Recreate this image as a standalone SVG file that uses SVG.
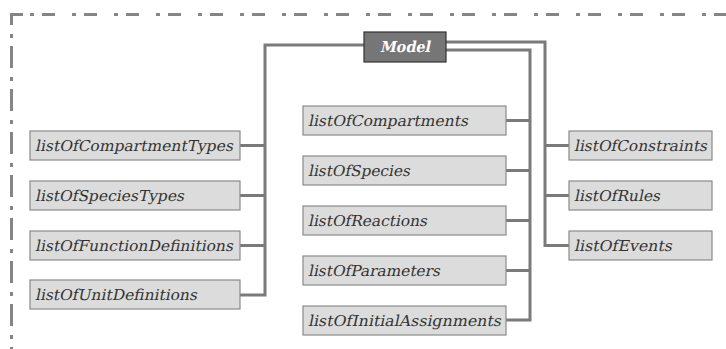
<svg xmlns="http://www.w3.org/2000/svg" width="726" height="349" viewBox="0 0 726 349">
<style>
.box{fill:#dcdcdc;stroke:#8a8a8a;stroke-width:1.2}
.lbl{font-family:"DejaVu Serif","Liberation Serif",serif;font-size:15px;fill:#333}
.conn{fill:none;stroke:#7a7a7a;stroke-width:3}
.border{fill:none;stroke:#858585;stroke-width:3}
</style>
<rect width="726" height="349" fill="#fff"/>
<g id="frame">
<path class="border" d="M11.5,25 V14.5 H23"/>
<path class="border" d="M30,14.5 H726" stroke-dasharray="4 8 13 17"/>
<path class="border" d="M11.5,34 V349" stroke-dasharray="4 8 22 9"/>
</g>
<g id="connectors">
<path class="conn" d="M364,45 H265 V295 H240"/>
<path class="conn" d="M240,145.5 H265 M240,195.5 H265 M240,245.5 H265"/>
<path class="conn" d="M446,50 H530 V320 H506"/>
<path class="conn" d="M506,120.5 H530 M506,170.5 H530 M506,220.5 H530 M506,270.5 H530"/>
<path class="conn" d="M446,42 H545 V245.5 H569"/>
<path class="conn" d="M545,145.5 H569 M545,195.5 H569"/>
</g>
<g id="model">
<rect x="364" y="32" width="82" height="30" fill="#767676" stroke="#333" stroke-width="1.2"/>
<text transform="translate(405,52) skewX(-12)" text-anchor="middle" font-family="DejaVu Serif, serif" font-weight="bold" font-size="15" fill="#fff" textLength="50" lengthAdjust="spacingAndGlyphs">Model</text>
</g>
<g id="listOfCompartmentTypes"><rect class="box" x="30" y="131" width="210" height="29"/><text class="lbl" transform="translate(35,151) skewX(-12)" textLength="198" lengthAdjust="spacingAndGlyphs">listOfCompartmentTypes</text></g>
<g id="listOfSpeciesTypes"><rect class="box" x="30" y="181" width="210" height="29"/><text class="lbl" transform="translate(35,201) skewX(-12)" textLength="149" lengthAdjust="spacingAndGlyphs">listOfSpeciesTypes</text></g>
<g id="listOfFunctionDefinitions"><rect class="box" x="30" y="231" width="210" height="29"/><text class="lbl" transform="translate(35,251) skewX(-12)" textLength="198" lengthAdjust="spacingAndGlyphs">listOfFunctionDefinitions</text></g>
<g id="listOfUnitDefinitions"><rect class="box" x="30" y="280" width="210" height="29"/><text class="lbl" transform="translate(35,300) skewX(-12)" textLength="162" lengthAdjust="spacingAndGlyphs">listOfUnitDefinitions</text></g>
<g id="listOfCompartments"><rect class="box" x="303" y="106" width="203" height="29"/><text class="lbl" transform="translate(308,126) skewX(-12)" textLength="160" lengthAdjust="spacingAndGlyphs">listOfCompartments</text></g>
<g id="listOfSpecies"><rect class="box" x="303" y="156" width="203" height="29"/><text class="lbl" transform="translate(308,176) skewX(-12)" textLength="102" lengthAdjust="spacingAndGlyphs">listOfSpecies</text></g>
<g id="listOfReactions"><rect class="box" x="303" y="206" width="203" height="29"/><text class="lbl" transform="translate(308,226) skewX(-12)" textLength="119" lengthAdjust="spacingAndGlyphs">listOfReactions</text></g>
<g id="listOfParameters"><rect class="box" x="303" y="256" width="203" height="29"/><text class="lbl" transform="translate(308,276) skewX(-12)" textLength="132" lengthAdjust="spacingAndGlyphs">listOfParameters</text></g>
<g id="listOfInitialAssignments"><rect class="box" x="303" y="306" width="203" height="29"/><text class="lbl" transform="translate(308,326) skewX(-12)" textLength="193" lengthAdjust="spacingAndGlyphs">listOfInitialAssignments</text></g>
<g id="listOfConstraints"><rect class="box" x="569" y="131" width="143" height="29"/><text class="lbl" transform="translate(574,151) skewX(-12)" textLength="133" lengthAdjust="spacingAndGlyphs">listOfConstraints</text></g>
<g id="listOfRules"><rect class="box" x="569" y="181" width="143" height="29"/><text class="lbl" transform="translate(574,201) skewX(-12)" textLength="86" lengthAdjust="spacingAndGlyphs">listOfRules</text></g>
<g id="listOfEvents"><rect class="box" x="569" y="231" width="143" height="29"/><text class="lbl" transform="translate(574,251) skewX(-12)" textLength="98" lengthAdjust="spacingAndGlyphs">listOfEvents</text></g>
</svg>
